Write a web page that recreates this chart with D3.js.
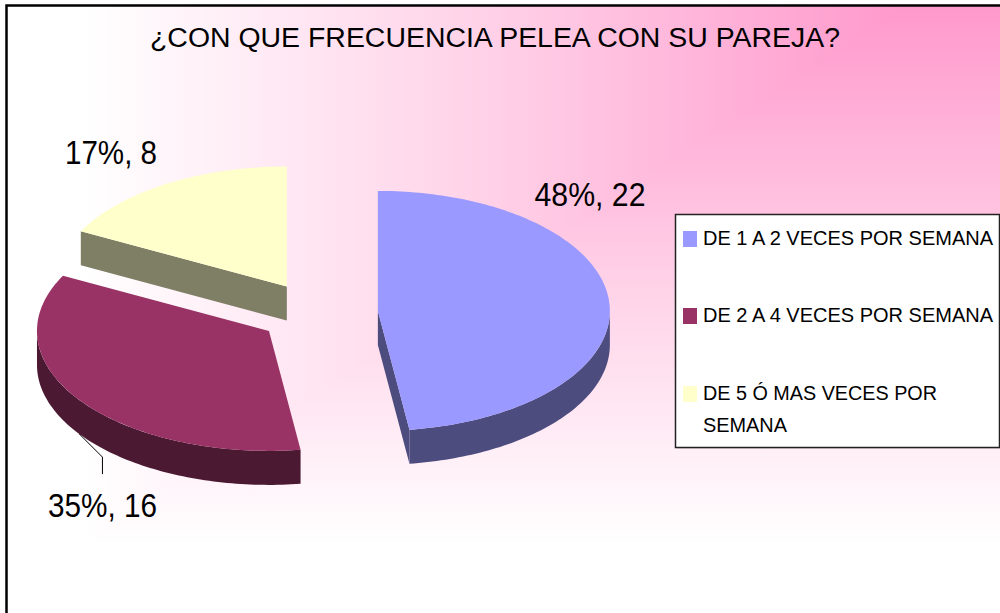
<!DOCTYPE html>
<html><head><meta charset="utf-8">
<script src="https://cdn.jsdelivr.net/npm/d3@7"></script>
<style>html,body{margin:0;padding:0;background:#fff;overflow:hidden}</style>
</head><body>
<svg id="chart" width="1000" height="613"></svg>
<script>
// ---------- data ----------
const title = "¿CON QUE FRECUENCIA PELEA CON SU PAREJA?";
const categories = ["DE 1 A 2 VECES POR SEMANA", "DE 2 A 4 VECES POR SEMANA", "DE 5 Ó MAS VECES POR SEMANA"];
const legendLines = [["DE 1 A 2 VECES POR SEMANA"], ["DE 2 A 4 VECES POR SEMANA"], ["DE 5 Ó MAS VECES POR", "SEMANA"]];
const values = [22, 16, 8];
const topColors = ["#9999FF", "#993366", "#FFFFCC"];
const sideColors = ["#4C4C7F", "#4C1933", "#7F7F66"];

// ---------- layout / style ----------
const W = 1000, H = 613;
const cx = 318, cy = 313, rx = 232, ry = 120, depth = 34, explode = 60;
const FONT = "'Liberation Sans', Arial, sans-serif";
// label placement: [centre x, baseline y, text width]
const labelPlace = [[590, 206, 111], null, [111, 164, 92]];

const svg = d3.select("#chart");
const defs = svg.append("defs");

// ---------- background ("from corner" gradient) ----------
const pink = "#FF99CC", white = "#FFFFFF";
const gx0 = 905, gy0 = 5, gW = 820, gH = 540;
const gh = defs.append("linearGradient").attr("id", "gh").attr("gradientUnits", "userSpaceOnUse")
  .attr("x1", gx0).attr("y1", 0).attr("x2", gx0 - gW).attr("y2", 0);
gh.append("stop").attr("offset", 0).attr("stop-color", pink);
gh.append("stop").attr("offset", 0.5).attr("stop-color", "#FFD0E7");
gh.append("stop").attr("offset", 1).attr("stop-color", white);
const gv = defs.append("linearGradient").attr("id", "gv").attr("gradientUnits", "userSpaceOnUse")
  .attr("x1", 0).attr("y1", gy0).attr("x2", 0).attr("y2", gy0 + gH);
gv.append("stop").attr("offset", 0).attr("stop-color", pink);
gv.append("stop").attr("offset", 0.5).attr("stop-color", "#FFD0E7");
gv.append("stop").attr("offset", 1).attr("stop-color", white);
// region where the vertical gradient wins (below/right of the corner diagonal)
const k = 3;
defs.append("clipPath").attr("id", "cpV").append("polygon")
  .attr("points", [[gx0 + gW * (gy0 + 10) / gH, -10], [W + 50, -10], [W + 50, H + 50],
                   [gx0 - gW * (1 + k), gy0 + gH * (1 + k)]].map(p => p.join(",")).join(" "));

svg.append("rect").attr("width", W).attr("height", H).attr("fill", "#fff");
svg.append("rect").attr("x", 6).attr("y", 5).attr("width", W + 20).attr("height", H + 20)
  .attr("fill", "url(#gh)");
svg.append("rect").attr("x", 6).attr("y", 5).attr("width", W + 20).attr("height", H + 20)
  .attr("fill", "url(#gv)").attr("clip-path", "url(#cpV)");
// chart border
svg.append("rect").attr("x", 6.5).attr("y", 5.5).attr("width", W + 20).attr("height", H + 20)
  .attr("fill", "none").attr("stroke", "#000").attr("stroke-width", 2.5);

// ---------- title ----------
svg.append("text").attr("x", 150).attr("y", 47)
  .attr("font-family", FONT).attr("font-size", 27).attr("fill", "#000")
  .attr("textLength", 690).attr("lengthAdjust", "spacingAndGlyphs")
  .text(title);

// ---------- 3D exploded pie ----------
const pie = d3.pie().sort(null).value(d => d);
const arcs = pie(values);
const total = d3.sum(values);
const pct = d3.format(".0%");
const line = d3.line();

function offsetOf(a) {
  const mid = (a.startAngle + a.endAngle) / 2;
  return [explode * Math.sin(mid), -explode * (ry / rx) * Math.cos(mid)];
}
function P(o, ang, r = 1, dz = 0) {
  return [cx + o[0] + r * rx * Math.sin(ang), cy + o[1] - r * ry * Math.cos(ang) + dz];
}
function arcPts(o, a1, a2, dz = 0) {
  const n = Math.max(2, Math.ceil(Math.abs(a2 - a1) / 0.02));
  return d3.range(n + 1).map(i => P(o, a1 + (a2 - a1) * i / n, 1, dz));
}

const order = arcs.map((a, i) => i).sort((i, j) => {
  const mi = (arcs[i].startAngle + arcs[i].endAngle) / 2, mj = (arcs[j].startAngle + arcs[j].endAngle) / 2;
  return -Math.cos(mi) - -Math.cos(mj);
});

const gPie = svg.append("g");
order.forEach(i => {
  const a = arcs[i], o = offsetOf(a);
  const c = P(o, 0, 0), cd = P(o, 0, 0, depth);
  const g = gPie.append("g");
  if (Math.sin(a.startAngle) < -1e-6) {
    g.append("path").attr("fill", sideColors[i])
      .attr("d", line([c, P(o, a.startAngle), P(o, a.startAngle, 1, depth), cd]) + "Z");
  }
  if (Math.sin(a.endAngle) > 1e-6) {
    g.append("path").attr("fill", sideColors[i])
      .attr("d", line([c, P(o, a.endAngle), P(o, a.endAngle, 1, depth), cd]) + "Z");
  }
  const v1 = Math.max(a.startAngle, Math.PI / 2), v2 = Math.min(a.endAngle, 3 * Math.PI / 2);
  if (v2 > v1) {
    const pts = arcPts(o, v1, v2).concat(arcPts(o, v2, v1, depth));
    g.append("path").attr("fill", sideColors[i]).attr("d", line(pts) + "Z");
  }
  g.append("path").attr("fill", topColors[i])
    .attr("d", line([c].concat(arcPts(o, a.startAngle, a.endAngle))) + "Z");
});

// ---------- data labels ----------
arcs.forEach((a, i) => {
  const txt = pct(values[i] / total) + ", " + values[i];
  let x, y, w;
  if (labelPlace[i]) {
    [x, y, w] = labelPlace[i];
  } else {
    const o = offsetOf(a), mid = (a.startAngle + a.endAngle) / 2;
    const p0 = P(o, mid, 1, depth);
    const p1 = [p0[0] + 23, p0[1] + 23];
    const p2 = [p1[0], p1[1] + 17];
    svg.append("path").attr("d", line([p0, p1, p2])).attr("fill", "none")
      .attr("stroke", "#000").attr("stroke-width", 1);
    x = p2[0]; y = p2[1] + 43; w = 109;
  }
  svg.append("text").attr("x", x - w / 2).attr("y", y)
    .attr("font-family", FONT).attr("font-size", 34).attr("fill", "#000")
    .attr("textLength", w).attr("lengthAdjust", "spacingAndGlyphs")
    .text(txt);
});

// ---------- legend ----------
const lg = svg.append("g");
lg.append("rect").attr("x", 677).attr("y", 217).attr("width", 330).attr("height", 232).attr("fill", "#bbb").attr("opacity", 0.4);
lg.append("rect").attr("x", 675.5).attr("y", 214.5).attr("width", 324).attr("height", 233)
  .attr("fill", "#fff").attr("stroke", "#222").attr("stroke-width", 1.5);
const legY = [245, 322, 400];
const legW = [[290], [290], [234, 84]];
categories.forEach((cat, i) => {
  lg.append("rect").attr("x", 683).attr("y", legY[i] - 14).attr("width", 14).attr("height", 16)
    .attr("fill", topColors[i]);
  legendLines[i].forEach((t, j) => {
    lg.append("text").attr("x", 703).attr("y", legY[i] + j * 32)
      .attr("font-family", FONT).attr("font-size", 20).attr("fill", "#000")
      .attr("textLength", legW[i][j]).attr("lengthAdjust", "spacingAndGlyphs")
      .text(t);
  });
});
</script>
</body></html>
